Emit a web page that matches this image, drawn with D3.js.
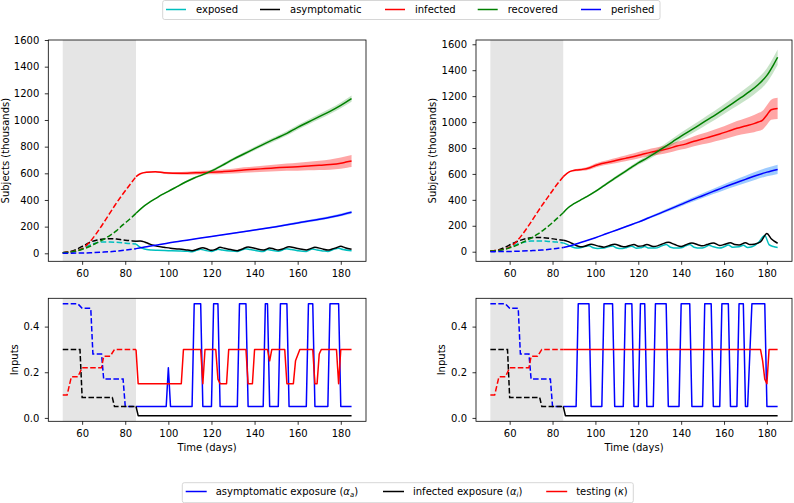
<!DOCTYPE html>
<html>
<head>
<meta charset="utf-8">
<script src="https://cdn.jsdelivr.net/npm/d3@7"></script>
<style>
  body { margin: 0; background: #fff; }
  svg { display: block; font-family: "DejaVu Sans", sans-serif; }
</style>
</head>
<body>
<div id="chart"></div>
<script>
// ---- data: [day, value] ----
const dayTicks = [60, 80, 100, 120, 140, 160, 180];
const subjectTicks = [0, 200, 400, 600, 800, 1000, 1200, 1400, 1600];
const inputTicks = [0.0, 0.2, 0.4];
const lockdown = [51, 85]; // shaded window, dashed part of the lines

const stateNames = ["exposed", "asymptomatic", "infected", "recovered", "perished"];
const stateColors = ["#00bfbf", "#000000", "#ff0000", "#008000", "#0000ff"];
const bandColors = [null, null, "rgba(255,0,0,0.35)", "rgba(0,128,0,0.22)", "rgba(40,140,255,0.45)"];

const inputNames = ["asymptomatic exposure", "infected exposure", "testing"];
const inputSymbols = ["\u03b1", "\u03b1", "\u03ba"];
const inputSubs = ["a", "i", ""];
const inputColors = ["#0000ff", "#000000", "#ff0000"];

// left panel, subjects (thousands)
const leftExposed = [[51,5],[55,10],[58,22],[61,42],[64,65],[67,80],[70,85],[73,85],[76,82],[79,78],[82,73],[85,70],
  [86,56],[88,38],[90,28],[92,24],[95,22],[100,20],[105,18],[109,15],[111,12],[113,22],[115,30],[117,22],[120,14],
  [122,25],[123,30],[125,25],[129,17],[132,14],[134,25],[136,35],[138,28],[141,20],[144,14],[146,28],[148,22],
  [151,16],[153,25],[155,35],[157,28],[160,20],[164,14],[166,28],[167,32],[169,24],[172,18],[174,14],[176,25],
  [179,38],[181,28],[185,20]];
const leftAsymptomatic = [[51,5],[55,15],[58,35],[61,60],[64,85],[67,100],[70,108],[73,110],[76,107],[79,100],[82,95],[85,90],
  [87,92],[89,85],[91,72],[93,60],[95,52],[98,45],[101,38],[104,33],[107,28],[109,24],[111,20],[113,28],[116,42],
  [118,32],[120,22],[122,30],[124,45],[126,38],[129,28],[132,20],[134,30],[137,48],[140,38],[144,25],[145,28],
  [147,40],[149,32],[151,25],[153,32],[156,50],[159,40],[162,30],[164,25],[166,35],[168,45],[171,35],[174,24],
  [176,32],[178,42],[180,52],[182,42],[185,30]];
const leftInfected = [[51,5],[54,10],[57,18],[60,35],[63,75],[66,135],[69,205],[72,280],[75,355],[78,425],[81,490],[85,575],
  [87,597],[90,608],[94,612],[98,605],[102,601],[106,600],[110,602],[115,605],[120,608],[125,612],[130,617],
  [135,625],[140,630],[145,636],[150,641],[155,646],[160,650],[165,655],[170,660],[175,666],[180,676],[183,686],[185,692]];
const leftRecovered = [[51,5],[55,10],[58,20],[61,35],[64,55],[67,80],[70,105],[73,135],[76,170],[79,215],[82,255],[85,300],
  [88,345],[91,380],[94,410],[97,440],[100,465],[104,500],[108,535],[112,565],[116,590],[120,618],[125,660],
  [130,705],[135,745],[140,785],[145,825],[150,862],[155,900],[160,945],[165,985],[170,1025],[175,1065],[180,1110],[185,1160]];
const leftPerished = [[51,0],[55,1],[60,2],[65,5],[70,9],[75,15],[80,24],[85,35],[90,50],[95,63],[100,78],[110,102],
  [120,126],[130,150],[140,175],[150,200],[160,228],[170,255],[180,288],[185,308]];
// half-width of the shaded spread
const leftInfectedSpread = [[85,0],[90,5],[100,8],[110,12],[120,15],[130,18],[140,22],[150,25],[160,30],[170,35],[180,42],[185,45]];
const leftRecoveredSpread = [[85,0],[100,6],[120,10],[140,14],[160,18],[180,22],[185,24]];
const leftPerishedSpread = [[85,0],[120,4],[150,7],[185,11]];

// right panel, subjects (thousands)
const rightExposed = [[51,5],[55,10],[58,22],[61,42],[64,62],[67,75],[70,82],[73,83],[76,82],[79,78],[82,74],[85,68],
  [87,55],[89,38],[91,28],[93,30],[95,40],[97,45],[99,30],[101,25],[104,28],[106,38],[108,44],[110,28],[112,24],
  [114,30],[116,40],[117,42],[119,27],[121,30],[123,40],[125,28],[128,28],[131,45],[133,55],[135,35],[138,28],
  [140,30],[142,45],[144,55],[146,35],[149,28],[151,35],[153,50],[155,38],[158,28],[160,38],[162,52],[164,35],
  [167,38],[169,50],[171,32],[173,38],[176,70],[179,125],[181,55],[183,40],[185,32]];
const rightAsymptomatic = [[51,5],[55,15],[58,35],[61,60],[64,82],[67,98],[70,107],[73,110],[76,108],[79,102],[82,95],[85,88],
  [87,80],[89,65],[91,48],[93,38],[95,42],[98,58],[101,45],[104,35],[106,45],[109,58],[112,42],[114,38],[116,48],
  [118,56],[120,42],[122,45],[124,55],[127,40],[129,45],[131,58],[134,72],[137,55],[140,40],[142,52],[145,68],
  [148,52],[150,45],[152,55],[155,68],[158,48],[160,55],[163,70],[165,55],[167,52],[170,70],[172,55],[174,58],
  [177,75],[180,140],[182,100],[185,65]];
const rightInfected = [[51,5],[54,10],[57,18],[60,35],[63,75],[66,135],[69,205],[72,280],[75,355],[78,425],[81,495],[85,579],
  [88,618],[91,630],[94,635],[97,645],[100,665],[103,680],[106,690],[110,705],[114,720],[118,735],[122,752],
  [126,768],[130,780],[134,795],[138,815],[142,830],[146,852],[150,870],[154,888],[158,908],[162,930],[166,952],
  [170,970],[174,988],[176,1000],[178,1015],[180,1055],[182,1095],[185,1105]];
const rightRecovered = [[51,5],[55,10],[58,20],[61,35],[64,55],[67,80],[70,105],[73,135],[76,170],[79,210],[82,255],[85,300],
  [87,335],[90,370],[93,398],[96,425],[100,465],[104,510],[108,555],[112,598],[116,642],[120,685],[124,722],
  [128,762],[132,805],[136,848],[140,892],[144,932],[148,972],[152,1015],[156,1056],[160,1100],[164,1145],
  [168,1190],[172,1236],[176,1290],[180,1360],[183,1440],[185,1500]];
const rightPerished = [[51,0],[55,1],[60,2],[65,4],[70,8],[75,13],[80,21],[85,32],[90,54],[95,80],[100,108],[105,138],
  [110,168],[115,198],[120,228],[125,262],[130,296],[135,330],[140,365],[145,400],[150,432],[155,465],[160,498],
  [165,528],[170,558],[175,588],[180,614],[185,635]];
const rightInfectedSpread = [[85,0],[90,8],[100,15],[110,20],[120,25],[130,30],[140,35],[150,42],[160,50],[170,60],[180,75],[185,82]];
const rightRecoveredSpread = [[85,0],[100,8],[120,15],[140,28],[160,38],[175,50],[185,60]];
const rightPerishedSpread = [[85,0],[110,5],[130,10],[150,18],[170,28],[185,35]];

// inputs
const leftAlphaA = [[51,0.5],[58,0.5],[60,0.48],[64,0.48],[65,0.28],[69,0.28],[70,0.17],[79,0.17],[80,0.05],[85,0.05],
  [99,0.05],[100,0.22],[101,0.05],[111,0.05],[112,0.5],[115,0.5],[116,0.05],[120,0.05],[121,0.5],[123,0.5],
  [124,0.05],[132,0.05],[133,0.5],[136,0.5],[137,0.05],[144,0.05],[145,0.5],[146,0.5],[147,0.05],[151,0.05],
  [152,0.5],[155,0.5],[156,0.05],[164,0.05],[165,0.5],[167,0.5],[168,0.05],[174,0.05],[175,0.5],[179,0.5],
  [180,0.05],[185,0.05]];
const leftAlphaI = [[51,0.3],[59,0.3],[60,0.09],[74,0.09],[75,0.05],[85,0.05],[86,0.01],[185,0.01]];
const leftKappa = [[51,0.1],[53,0.1],[55,0.18],[58,0.18],[60,0.22],[69,0.22],[70,0.27],[73,0.27],[75,0.3],[85,0.3],
  [86,0.15],[106,0.15],[107,0.3],[115,0.3],[116,0.15],[117,0.3],[122,0.3],[123,0.17],[124,0.15],[127,0.15],
  [128,0.3],[136,0.3],[137,0.15],[139,0.15],[140,0.3],[146,0.3],[147,0.25],[148,0.3],[154,0.3],[155,0.15],
  [158,0.15],[159,0.25],[161,0.3],[167,0.3],[168,0.15],[169,0.15],[170,0.28],[171,0.3],[178,0.3],[179,0.15],
  [180,0.3],[185,0.3]];
const rightAlphaA = [[51,0.5],[58,0.5],[60,0.48],[64,0.48],[65,0.28],[69,0.28],[70,0.17],[79,0.17],[80,0.05],[85,0.05],
  [91,0.05],[92,0.5],[97,0.5],[98,0.05],[103,0.05],[104,0.5],[108,0.5],[109,0.05],[113,0.05],[114,0.5],[117,0.5],
  [118,0.05],[120,0.05],[121,0.5],[123,0.5],[124,0.05],[127,0.05],[128,0.5],[133,0.5],[134,0.05],[139,0.05],
  [140,0.5],[144,0.5],[145,0.05],[150,0.05],[151,0.5],[154,0.5],[155,0.05],[158,0.05],[159,0.5],[162,0.5],
  [163,0.05],[166,0.05],[167,0.5],[169,0.5],[170,0.05],[171,0.05],[173,0.5],[179,0.5],[180,0.05],[185,0.05]];
const rightAlphaI = [[51,0.3],[59,0.3],[60,0.09],[74,0.09],[75,0.05],[85,0.05],[86,0.01],[185,0.01]];
const rightKappa = [[51,0.1],[53,0.1],[55,0.18],[58,0.18],[60,0.22],[69,0.22],[70,0.27],[73,0.27],[75,0.3],[85,0.3],
  [177,0.3],[178,0.25],[179,0.17],[180,0.15],[181,0.3],[185,0.3]];

// ---- drawing ----
const width = 794;
const height = 503;
const xDomain = [44.3, 191.7];
const dash = "5.55,2.4";

d3.select("#chart").select("svg").remove();
const svg = d3.select("#chart").append("svg")
  .attr("width", width)
  .attr("height", height);
svg.append("rect").attr("width", width).attr("height", height).attr("fill", "#fff");

let clipCount = 0;

function makePanel(box, yDomain) {
  const x = d3.scaleLinear().domain(xDomain).range([box.left, box.right]);
  const y = d3.scaleLinear().domain(yDomain).range([box.bottom, box.top]);
  const id = "clip" + clipCount++;
  svg.append("clipPath").attr("id", id)
    .append("rect")
    .attr("x", box.left).attr("y", box.top)
    .attr("width", box.right - box.left).attr("height", box.bottom - box.top);
  const plot = svg.append("g").attr("clip-path", `url(#${id})`);
  plot.append("rect")
    .attr("x", x(lockdown[0])).attr("y", box.top)
    .attr("width", x(lockdown[1]) - x(lockdown[0]))
    .attr("height", box.bottom - box.top)
    .attr("fill", "#e5e5e5");
  return { box, x, y, plot };
}

function drawSeries(p, data, color, curve) {
  const line = d3.line().x((d) => p.x(d[0])).y((d) => p.y(d[1])).curve(curve);
  const before = data.filter((d) => d[0] <= lockdown[1]);
  const after = data.filter((d) => d[0] >= lockdown[1]);
  p.plot.append("path").datum(before)
    .attr("fill", "none").attr("stroke", color).attr("stroke-width", 1.5)
    .attr("stroke-dasharray", dash).attr("d", line);
  p.plot.append("path").datum(after)
    .attr("fill", "none").attr("stroke", color).attr("stroke-width", 1.5)
    .attr("stroke-linejoin", "round").attr("d", line);
}

function drawBand(p, data, spread, color) {
  const s = d3.scaleLinear().domain(spread.map((d) => d[0])).range(spread.map((d) => d[1])).clamp(true);
  const after = data.filter((d) => d[0] >= lockdown[1]);
  const area = d3.area()
    .x((d) => p.x(d[0]))
    .y0((d) => p.y(d[1] - s(d[0])))
    .y1((d) => p.y(d[1] + s(d[0])))
    .curve(d3.curveMonotoneX);
  p.plot.append("path").datum(after).attr("fill", color).attr("stroke", "none").attr("d", area);
}

function drawAxes(p, yTicks, yFormat, yLabel, labelX) {
  const { box, x, y } = p;
  const xAxis = svg.append("g")
    .attr("transform", `translate(0,${box.bottom})`)
    .call(d3.axisBottom(x).tickValues(dayTicks).tickSize(3.5).tickPadding(5.0));
  const yAxis = svg.append("g")
    .attr("transform", `translate(${box.left},0)`)
    .call(d3.axisLeft(y).tickValues(yTicks).tickFormat(yFormat).tickSize(3.5).tickPadding(5.5));
  [xAxis, yAxis].forEach((a) => {
    a.select(".domain").remove();
    a.selectAll(".tick line").attr("stroke", "#000").attr("stroke-width", 0.8);
    a.selectAll("text").attr("fill", "#000").attr("font-size", 10).attr("font-family", "DejaVu Sans");
  });
  svg.append("rect")
    .attr("x", box.left).attr("y", box.top)
    .attr("width", box.right - box.left).attr("height", box.bottom - box.top)
    .attr("fill", "none").attr("stroke", "#000").attr("stroke-width", 0.8);
  svg.append("text")
    .attr("transform", `translate(${labelX},${(box.top + box.bottom) / 2}) rotate(-90)`)
    .attr("text-anchor", "middle").attr("font-size", 10).attr("fill", "#000")
    .text(yLabel);
}

function xLabel(p, baseline) {
  svg.append("text")
    .attr("x", (p.box.left + p.box.right) / 2).attr("y", baseline)
    .attr("text-anchor", "middle").attr("font-size", 10).attr("fill", "#000")
    .text("Time (days)");
}

// top panels
const topLeft = makePanel({ left: 48.3, right: 366, top: 40, bottom: 261.3 }, [-60, 1600]);
const topRight = makePanel({ left: 476, right: 792, top: 40, bottom: 261.3 }, [-74, 1633]);

const leftStates = [leftExposed, leftAsymptomatic, leftInfected, leftRecovered, leftPerished];
const rightStates = [rightExposed, rightAsymptomatic, rightInfected, rightRecovered, rightPerished];
const leftSpreads = [null, null, leftInfectedSpread, leftRecoveredSpread, leftPerishedSpread];
const rightSpreads = [null, null, rightInfectedSpread, rightRecoveredSpread, rightPerishedSpread];

[[topLeft, leftStates, leftSpreads], [topRight, rightStates, rightSpreads]].forEach(([p, states, spreads]) => {
  states.forEach((s, i) => {
    if (spreads[i]) drawBand(p, s, spreads[i], bandColors[i]);
  });
  states.forEach((s, i) => drawSeries(p, s, stateColors[i], d3.curveMonotoneX));
});
drawAxes(topLeft, subjectTicks, d3.format("d"), "Subjects (thousands)", 8.8);
drawAxes(topRight, subjectTicks, d3.format("d"), "Subjects (thousands)", 436);

// bottom panels
const botLeft = makePanel({ left: 48.3, right: 366, top: 298.3, bottom: 421.3 }, [-0.0148, 0.524]);
const botRight = makePanel({ left: 476, right: 792, top: 298.3, bottom: 421.3 }, [-0.0148, 0.524]);

[[botLeft, [leftAlphaA, leftAlphaI, leftKappa]], [botRight, [rightAlphaA, rightAlphaI, rightKappa]]].forEach(([p, inputs]) => {
  inputs.forEach((s, i) => drawSeries(p, s, inputColors[i], d3.curveLinear));
});
drawAxes(botLeft, inputTicks, d3.format(".1f"), "Inputs", 18);
drawAxes(botRight, inputTicks, d3.format(".1f"), "Inputs", 444.5);
xLabel(botLeft, 451);
xLabel(botRight, 451);

// top legend
const topLegendX = [196, 290, 415, 507.7, 611];
const topLeg = svg.append("g");
topLeg.append("rect")
  .attr("x", 162.7).attr("y", 0.5).attr("width", 497.3).attr("height", 19)
  .attr("rx", 2).attr("fill", "#fff").attr("fill-opacity", 0.8)
  .attr("stroke", "#cccccc").attr("stroke-width", 0.8);
stateNames.forEach((name, i) => {
  const tx = topLegendX[i];
  topLeg.append("line")
    .attr("x1", tx - 30).attr("x2", tx - 10).attr("y1", 9.5).attr("y2", 9.5)
    .attr("stroke", stateColors[i]).attr("stroke-width", 1.5);
  topLeg.append("text")
    .attr("x", tx).attr("y", 12.6).attr("font-size", 10).attr("fill", "#000")
    .text(name);
});

// bottom legend
const botLegendX = [215.7, 413, 576.2];
const botLeg = svg.append("g");
botLeg.append("rect")
  .attr("x", 182.3).attr("y", 482.7).attr("width", 451).attr("height", 20)
  .attr("rx", 2).attr("fill", "#fff").attr("fill-opacity", 0.8)
  .attr("stroke", "#cccccc").attr("stroke-width", 0.8);
inputNames.forEach((name, i) => {
  const tx = botLegendX[i];
  botLeg.append("line")
    .attr("x1", tx - 30).attr("x2", tx - 9).attr("y1", 491.5).attr("y2", 491.5)
    .attr("stroke", inputColors[i]).attr("stroke-width", 1.5);
  const t = botLeg.append("text")
    .attr("x", tx).attr("y", 494.8).attr("font-size", 10).attr("fill", "#000");
  t.append("tspan").text(name + " (");
  t.append("tspan").attr("font-style", "italic").text(inputSymbols[i]);
  if (inputSubs[i]) {
    t.append("tspan").attr("font-style", "italic").attr("font-size", 7).attr("dy", 2.2).text(inputSubs[i]);
    t.append("tspan").attr("dy", -2.2).text(")");
  } else {
    t.append("tspan").text(")");
  }
});
</script>
</body>
</html>
